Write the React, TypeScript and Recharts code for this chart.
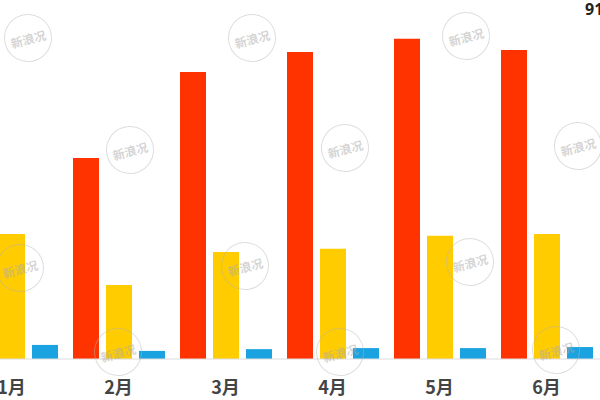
import { Bar, BarChart, XAxis, YAxis } from "recharts"

const months = ["1月", "2月", "3月", "4月", "5月", "6月"]
const redValues = [45, 57.1, 81.5, 87.2, 91, 87.8]
const yellowValues = [35.5, 21, 30.4, 31.3, 35, 35.5]
const blueValues = [4, 2.3, 2.8, 3.1, 3.1, 3.4]

const data = months.map((m, i) => ({
  name: m,
  red: redValues[i],
  yellow: yellowValues[i],
  blue: blueValues[i],
}))

// faint "新浪况" stamps over the picture
const stamps = [
  [28, 38], [252, 38], [466, 36], [130, 150], [345, 148], [578, 146],
  [20, 268], [245, 266], [470, 262], [118, 352], [340, 352], [556, 350],
]

export default function App() {
  return (
    <div
      style={{
        position: "fixed",
        left: 0,
        top: 0,
        width: 600,
        height: 400,
        overflow: "hidden",
        background: "#fff",
      }}
    >
      <div style={{ position: "absolute", left: -42.5, top: 0 }}>
        <BarChart
          width={642}
          height={400}
          data={data}
          margin={{ top: 7, right: 0, bottom: 0, left: 0 }}
          barSize={26}
          barGap={7}
          barCategoryGap={0}
        >
          <XAxis
            dataKey="name"
            height={41}
            axisLine={{ stroke: "#dcdcdc" }}
            tickLine={false}
            tickSize={0}
            tickMargin={22}
            tick={{
              fill: "#444",
              fontSize: 18,
              fontWeight: 700,
              fontFamily: "'Noto Sans CJK SC', 'Noto Sans', sans-serif",
            }}
          />
          <YAxis hide domain={[0, 100]} />
          <Bar dataKey="red" fill="#ff3300" isAnimationActive={false} />
          <Bar dataKey="yellow" fill="#ffcc00" isAnimationActive={false} />
          <Bar dataKey="blue" fill="#1aa3e0" isAnimationActive={false} />
        </BarChart>
      </div>
      <div
        style={{
          position: "absolute",
          left: 585,
          top: -2,
          fontFamily: "'Noto Sans', sans-serif",
          fontWeight: 700,
          fontSize: 16,
          color: "#222",
        }}
      >
        91
      </div>
      {stamps.map(([x, y], i) => (
        <div
          key={i}
          style={{
            position: "absolute",
            left: x - 24,
            top: y - 24,
            width: 46,
            height: 46,
            borderRadius: "50%",
            border: "1.5px solid rgba(180,180,180,0.45)",
            display: "flex",
            alignItems: "center",
            justifyContent: "center",
            fontFamily: "'Noto Sans CJK SC', sans-serif",
            fontSize: 12,
            fontWeight: 700,
            color: "rgba(170,170,170,0.5)",
            transform: "rotate(-15deg)",
            pointerEvents: "none",
          }}
        >
          新浪况
        </div>
      ))}
    </div>
  )
}
